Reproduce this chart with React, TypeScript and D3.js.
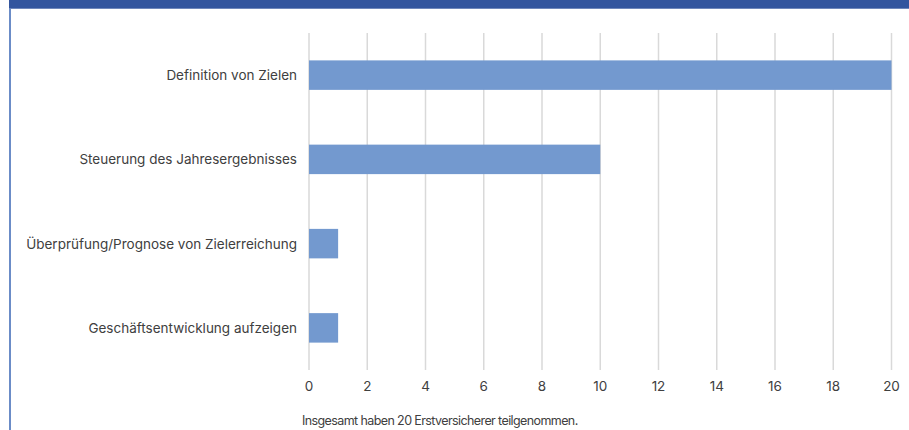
import React from "react";
import * as d3 from "d3";

const categories = [
  "Definition von Zielen",
  "Steuerung des Jahresergebnisses",
  "Überprüfung/Prognose von Zielerreichung",
  "Geschäftsentwicklung aufzeigen",
];
const values = [20, 10, 1, 1];
const xTicks = [0, 2, 4, 6, 8, 10, 12, 14, 16, 18, 20];
const footnote = "Insgesamt haben 20 Erstversicherer teilgenommen.";

const W = 909;
const H = 430;
const FONT = "Inter, 'Noto Sans', sans-serif";

export default function App() {
  const x = d3.scaleLinear().domain([0, 20]).range([309, 891.5]);
  const y = d3
    .scaleBand<string>()
    .domain(categories)
    .range([33, 370])
    .paddingInner(0.65)
    .paddingOuter(0.325);
  const bh = y.bandwidth();

  return (
    <svg
      width={W}
      height={H}
      style={{ position: "absolute", left: 0, top: 0, background: "#fff" }}
    >
      <rect x={9} y={0} width={W - 9} height={8.7} fill="#33559e" />
      <rect x={9} y={8.7} width={2} height={H - 8.7} fill="#6b8cc7" />
      {xTicks.map((t) => (
        <g key={t}>
          <line
            x1={x(t)}
            x2={x(t)}
            y1={33}
            y2={370}
            stroke="#d9d9d9"
            strokeWidth={1.5}
          />
          <text
            x={x(t)}
            y={386}
            textAnchor="middle"
            dominantBaseline="central"
            fontFamily={FONT}
            fontSize={13.5}
            fill="#404040"
          >
            {t}
          </text>
        </g>
      ))}
      {categories.map((c, i) => (
        <g key={c}>
          <rect
            x={x(0)}
            y={y(c)!}
            width={x(values[i]) - x(0)}
            height={bh}
            fill="#7399cf"
          />
          <text
            x={297}
            y={y(c)! + bh / 2}
            textAnchor="end"
            dominantBaseline="central"
            fontFamily={FONT}
            fontSize={13.5}
            fill="#404040"
          >
            {c}
          </text>
        </g>
      ))}
      <text
        x={302}
        y={420}
        dominantBaseline="central"
        fontFamily={FONT}
        fontSize={12.5}
        letterSpacing={-0.6}
        fill="#404040"
      >
        {footnote}
      </text>
    </svg>
  );
}
